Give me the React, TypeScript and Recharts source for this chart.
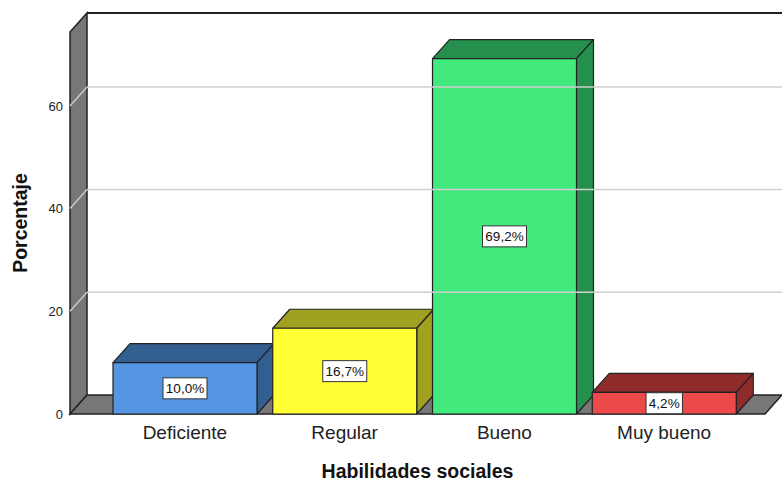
import { BarChart, Bar, XAxis, YAxis, ReferenceArea, ReferenceLine, LabelList } from "recharts";

const categories = ["Deficiente", "Regular", "Bueno", "Muy bueno"];
const percentages = [10.0, 16.7, 69.2, 4.2];
const yTicks = [0, 20, 40, 60];

const FRONT = ["#5596e2", "#ffff33", "#42ea7d", "#ec4a4a"];
const DARK = ["#335e90", "#a1a121", "#25904d", "#8f2b2b"];

// depth of the 3D effect
const DX = 17;
const DY = -19;
const EDGE = "#222";
const FONT = "'Liberation Sans', Arial, sans-serif";
const Y_MAX = 74.4;
// category axis padding (the reference area only covers the padded range)
const PAD_L = 35;
const PAD_R = 21;

const data = categories.map((name, i) => ({ name, value: percentages[i] }));

const Walls = (props: any) => {
  const x = props.x - PAD_L;
  const width = props.width + PAD_L + PAD_R;
  const { y, height } = props;
  const b = y + height;
  return (
    <g>
      <rect x={x + DX} y={y + DY} width={width + 40} height={height} fill="#fff" />
      <line x1={x + DX} y1={y + DY} x2={x + width + DX + 40} y2={y + DY} stroke={EDGE} strokeWidth={2} />
      <polygon
        points={`${x},${y} ${x + DX},${y + DY} ${x + DX},${b + DY} ${x},${b}`}
        fill="#777"
        stroke={EDGE}
        strokeWidth={1.5}
      />
      <polygon
        points={`${x},${b} ${x + DX},${b + DY} ${x + width + DX},${b + DY} ${x + width},${b}`}
        fill="#777"
        stroke={EDGE}
        strokeWidth={1.5}
      />
    </g>
  );
};

const GridLine3D = (props: any) => {
  const { x1, y1, x2 } = props;
  return (
    <g>
      <line x1={x1} y1={y1} x2={x1 + DX} y2={y1 + DY} stroke="#c8c8c8" strokeWidth={1.5} />
      <line x1={x1 + DX} y1={y1 + DY} x2={x2 + DX + 40} y2={y1 + DY} stroke="#cfcfcf" strokeWidth={1.5} />
    </g>
  );
};

const Bar3D = (props: any) => {
  const { x, y, width, height, index } = props;
  const r = x + width;
  const b = y + height;
  return (
    <g stroke={EDGE} strokeWidth={1.2} strokeLinejoin="round">
      <polygon points={`${x},${y} ${x + DX},${y + DY} ${r + DX},${y + DY} ${r},${y}`} fill={DARK[index]} />
      <polygon points={`${r},${y} ${r + DX},${y + DY} ${r + DX},${b + DY} ${r},${b}`} fill={DARK[index]} />
      <rect x={x} y={y} width={width} height={height} fill={FRONT[index]} />
    </g>
  );
};

const ValueLabel = (props: any) => {
  const { x, y, width, height, value } = props;
  const text = `${Number(value).toFixed(1).replace(".", ",")}%`;
  const w = text.length * 7.6 + 6;
  const cx = x + width / 2;
  const cy = y + height / 2;
  return (
    <g>
      <rect x={cx - w / 2} y={cy - 10.5} width={w} height={21} fill="#fff" stroke="#333" strokeWidth={1} />
      <text x={cx} y={cy + 5} textAnchor="middle" fontSize={13.5} fontFamily={FONT} fill="#111">
        {text}
      </text>
    </g>
  );
};

export default function App() {
  return (
    <div style={{ position: "absolute", left: 0, top: 0, background: "#fff" }}>
      <BarChart
        width={782}
        height={482}
        data={data}
        margin={{ top: 32, right: 17, bottom: 0, left: 0 }}
      >
        <ReferenceArea y1={0} y2={Y_MAX} shape={<Walls />} ifOverflow="visible" />
        {yTicks
          .filter((t) => t > 0)
          .map((t) => (
            <ReferenceLine key={t} y={t} shape={<GridLine3D />} ifOverflow="visible" />
          ))}
        <XAxis
          dataKey="name"
          height={68}
          axisLine={false}
          tickLine={false}
          tickMargin={6}
          padding={{ left: PAD_L, right: PAD_R }}
          tick={{ fontSize: 19, fill: "#222", fontFamily: FONT }}
          label={{
            value: "Habilidades sociales",
            position: "insideBottom",
            offset: 4,
            style: { fontSize: 19.5, fontWeight: "bold", fill: "#111", fontFamily: FONT },
          }}
        />
        <YAxis
          width={70}
          domain={[0, Y_MAX]}
          ticks={yTicks}
          axisLine={false}
          tickLine={false}
          tickSize={0}
          tickMargin={7}
          tick={{ fontSize: 13, fill: "#222", fontFamily: FONT }}
          label={{
            value: "Porcentaje",
            angle: -90,
            position: "insideLeft",
            offset: 20,
            style: { fontSize: 19.5, fontWeight: "bold", fill: "#111", fontFamily: FONT, textAnchor: "middle" },
          }}
        />
        <Bar dataKey="value" barSize={144} shape={<Bar3D />} isAnimationActive={false}>
          <LabelList dataKey="value" content={<ValueLabel />} />
        </Bar>
      </BarChart>
    </div>
  );
}
